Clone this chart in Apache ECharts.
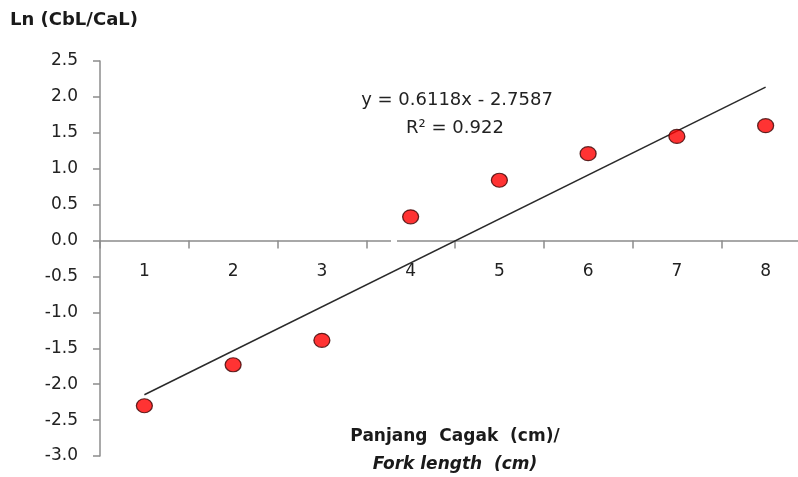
<!DOCTYPE html>
<html>
<head>
<meta charset="utf-8">
<script src="https://cdn.jsdelivr.net/npm/echarts@6/dist/echarts.min.js"></script>
<style>
html,body{margin:0;padding:0;background:#fff;}
#chart{width:798px;height:477px;}
</style>
</head>
<body>
<div id="chart"></div>
<script>
// Data
var categories = ['1', '2', '3', '4', '5', '6', '7', '8'];
var lnValues = [-2.30, -1.73, -1.39, 0.33, 0.84, 1.21, 1.45, 1.60];
var trendX = ['1', '8'];
var trendY = [-2.147, 2.136];
var yTicks = { min: -3.0, max: 2.5, step: 0.5 };
var equationText = 'y = 0.6118x - 2.7587';
var r2Text = 'R² = 0.922';
var yTitle = 'Ln (CbL/CaL)';
var xTitle1 = 'Panjang  Cagak  (cm)/';
var xTitle2 = 'Fork length  (cm)';

var FONT = '"DejaVu Sans", Verdana, sans-serif';
var GRID = { left: 100, top: 61, width: 710, height: 395 };
// place the category axis on y = 0 (shift from the grid bottom)
var zeroShift = -GRID.height * (0 - yTicks.min) / (yTicks.max - yTicks.min);

var chart = echarts.init(document.getElementById('chart'));
chart.setOption({
  animation: false,
  backgroundColor: '#ffffff',
  grid: { left: GRID.left, top: GRID.top, width: GRID.width, height: GRID.height, containLabel: false, outerBoundsMode: 'none' },
  xAxis: {
    type: 'category',
    data: categories,
    boundaryGap: true,
    position: 'bottom',
    offset: zeroShift,
    axisLine: { onZero: false, lineStyle: { color: '#8c8c8c', width: 1.5 } },
    axisTick: { show: true, length: 8, alignWithLabel: false, lineStyle: { color: '#8c8c8c', width: 1.5 } },
    axisLabel: { margin: 23, color: '#222', fontSize: 17, fontFamily: FONT },
    splitLine: { show: false }
  },
  yAxis: {
    type: 'value',
    min: yTicks.min,
    max: yTicks.max,
    interval: yTicks.step,
    axisLine: { show: true, onZero: false, lineStyle: { color: '#8c8c8c', width: 1.5 } },
    axisTick: { show: true, length: 7, lineStyle: { color: '#8c8c8c', width: 1.5 } },
    axisLabel: { margin: 22, color: '#222', fontSize: 17, fontFamily: FONT,
      formatter: function (v) { return v.toFixed(1); } },
    splitLine: { show: false }
  },
  series: [
    {
      type: 'line',
      data: trendX.map(function (x, i) { return [x, trendY[i]]; }),
      symbol: 'none',
      lineStyle: { color: '#2a2a2a', width: 1.5 },
      z: 2
    },
    {
      type: 'scatter',
      data: lnValues,
      symbol: 'circle',
      symbolSize: [16, 14],
      itemStyle: { color: '#ff0000', borderColor: '#3a0000', borderWidth: 1.2 },
      z: 3
    }
  ],
  graphic: [
    { type: 'rect', shape: { x: 391, y: 235, width: 6, height: 8 }, style: { fill: '#ffffff' }, z: 10 },
    { type: 'text', left: 10, top: 11, style: { text: yTitle, font: 'bold 18px ' + FONT, fill: '#1a1a1a' } },
    { type: 'text', x: 457, y: 100, style: { text: equationText, font: '18px ' + FONT, fill: '#222', align: 'center', verticalAlign: 'middle' } },
    { type: 'text', x: 455, y: 128, style: { text: r2Text, font: '18px ' + FONT, fill: '#222', align: 'center', verticalAlign: 'middle' } },
    { type: 'text', x: 455, y: 437, style: { text: xTitle1, font: 'bold 17px ' + FONT, fill: '#1a1a1a', align: 'center', verticalAlign: 'middle' } },
    { type: 'text', x: 455, y: 465, style: { text: xTitle2, font: 'italic bold 17px ' + FONT, fill: '#1a1a1a', align: 'center', verticalAlign: 'middle' } }
  ]
});
</script>
</body>
</html>
